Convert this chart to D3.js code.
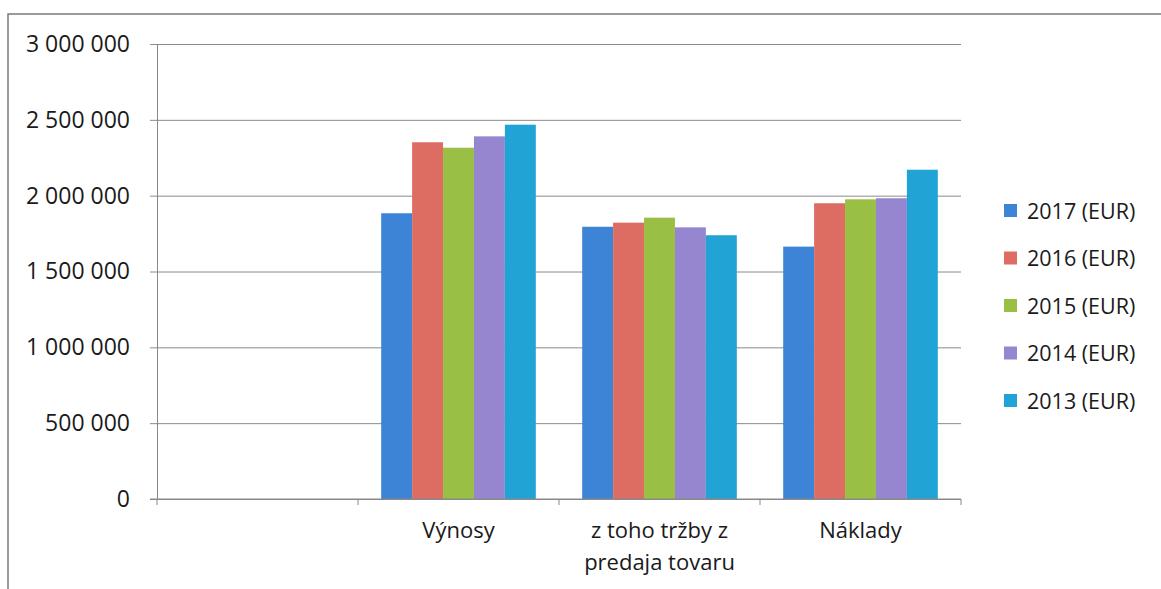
<!DOCTYPE html>
<html>
<head>
<meta charset="utf-8">
<script src="https://cdn.jsdelivr.net/npm/d3@7"></script>
<style>
  body { margin: 0; background: #fff; }
  svg text { font-family: "Open Sans", "Liberation Sans", sans-serif; fill: #1a1a1a; }
</style>
</head>
<body>
<div id="chart"></div>
<script>
// categories (first slot is empty in the original chart)
var categories = ["", "Výnosy", "z toho tržby z predaja tovaru", "Náklady"];
var years = ["2017 (EUR)", "2016 (EUR)", "2015 (EUR)", "2014 (EUR)", "2013 (EUR)"];
var colors = ["#3d84d6", "#dd6c63", "#9abf45", "#9586cf", "#21a3d5"];

var v2017 = [null, 1884000, 1795000, 1664000];
var v2016 = [null, 2352000, 1822000, 1950000];
var v2015 = [null, 2316000, 1855000, 1976000];
var v2014 = [null, 2391000, 1791000, 1983000];
var v2013 = [null, 2468000, 1739000, 2171000];
var series = [v2017, v2016, v2015, v2014, v2013];

var yTicks = [0, 500000, 1000000, 1500000, 2000000, 2500000, 3000000];

var W = 1161, H = 589;
var mLeft = 157, mRight = 961, mTop = 44, mBottom = 499;

var svg = d3.select("#chart").append("svg").attr("width", W).attr("height", H);

// outer frame (only top and left edges are visible)
svg.append("path")
  .attr("d", "M8," + H + "V14H" + W)
  .attr("fill", "none").attr("stroke", "#7a7a7a").attr("stroke-width", 1.5);

var x0 = d3.scaleBand().domain(categories).range([mLeft, mRight]).padding(0);
var x1 = d3.scaleBand().domain(years).range([0, x0.bandwidth()])
  .paddingInner(0).paddingOuter(0.75);
var y = d3.scaleLinear().domain([0, 3000000]).range([mBottom, mTop]);

var loc = d3.formatLocale({decimal: ",", thousands: " ", grouping: [3], currency: ["", ""]});
var fmt = loc.format(",d");

// gridlines + y axis
var yAxis = d3.axisLeft(y).tickValues(yTicks).tickFormat(fmt).tickSize(-(mRight - mLeft)).tickPadding(27);
var gy = svg.append("g").attr("transform", "translate(" + mLeft + ",0)").call(yAxis);
gy.select(".domain").attr("stroke", "#888");
gy.selectAll(".tick line").attr("stroke", "#8a8a8a").attr("x1", -7);
gy.selectAll(".tick text").style("font-size", "23px").attr("fill", "#1a1a1a");

// bars
var rows = categories.map(function(c, i) {
  return { cat: c, vals: years.map(function(yr, j) { return { yr: yr, v: series[j][i], c: colors[j] }; }) };
});
var groups = svg.selectAll(".grp").data(rows).enter().append("g")
  .attr("transform", function(d) { return "translate(" + x0(d.cat) + ",0)"; });
groups.selectAll("rect").data(function(d) { return d.vals.filter(function(e) { return e.v != null; }); })
  .enter().append("rect")
  .attr("x", function(d) { return x1(d.yr); })
  .attr("width", x1.bandwidth())
  .attr("y", function(d) { return y(d.v); })
  .attr("height", function(d) { return mBottom - y(d.v); })
  .attr("fill", function(d) { return d.c; });

// x axis
var xAxis = d3.axisBottom(x0).tickSize(0).tickPadding(23);
var gx = svg.append("g").attr("transform", "translate(0," + mBottom + ")").call(xAxis);
gx.select(".domain").attr("stroke", "#888").attr("d", "M" + (mLeft - 7) + ",0H" + mRight);
gx.selectAll(".tick text").style("font-size", "22px").attr("fill", "#1a1a1a");
// category boundary ticks
var bounds = categories.map(function(c) { return x0(c); }).concat([mRight]);
gx.selectAll(".bnd").data(bounds).enter().append("line")
  .attr("x1", function(d) { return d; }).attr("x2", function(d) { return d; })
  .attr("y1", 0).attr("y2", 6).attr("stroke", "#888");

// wrap long labels
gx.selectAll(".tick text").each(function() {
  var t = d3.select(this), words = t.text().split(" "), lines = [], line = [];
  t.text(null);
  var ts = t.append("tspan").attr("x", 0);
  words.forEach(function(w) {
    line.push(w);
    ts.text(line.join(" "));
    if (ts.node().getComputedTextLength() > 170 && line.length > 1) {
      line.pop(); lines.push(line.join(" ")); line = [w]; ts.text(w);
    }
  });
  lines.push(line.join(" "));
  t.text(null);
  lines.forEach(function(l, i) {
    t.append("tspan").attr("x", 0).attr("dy", i === 0 ? "0.71em" : "1.45em").text(l);
  });
});

// legend
var lg = svg.append("g").attr("transform", "translate(1004,210)");
var li = lg.selectAll("g").data(years).enter().append("g")
  .attr("transform", function(d, i) { return "translate(0," + (i * 47.5) + ")"; });
li.append("rect").attr("x", 0).attr("y", -6).attr("width", 13).attr("height", 13)
  .attr("fill", function(d, i) { return colors[i]; });
li.append("text").attr("x", 23).attr("y", 1).attr("dy", "0.35em")
  .style("font-size", "21.5px").text(function(d) { return d; });
</script>
</body>
</html>
